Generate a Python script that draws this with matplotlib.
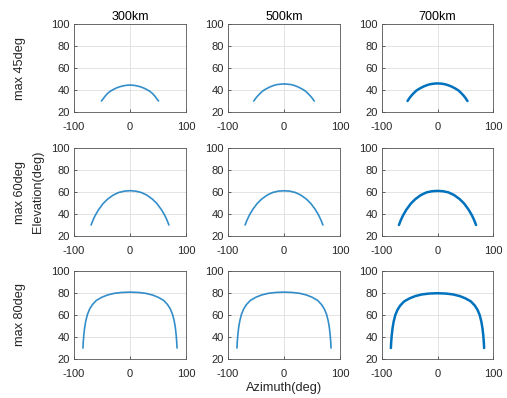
import matplotlib
matplotlib.use("Agg")
import matplotlib.pyplot as plt

# ---------------------------------------------------------------------------
# Data (azimuth / elevation in deg)
# ---------------------------------------------------------------------------

ALTITUDES = ["300km", "500km", "700km"]
MAX_ELEV = ["max 45deg", "max 60deg", "max 80deg"]

# row 1 : max 45deg
AZ_45_300 = [-51, -47, -44.6, -40, -35.7, -30, -24, -18, -12, -6, 0,
             6, 12, 18, 24, 30, 35.7, 40, 44.6, 47, 51]
EL_45_300 = [30, 32.6, 34.3, 36.9, 38.7, 40.4, 41.9, 43, 43.8, 44.3, 44.5,
             44.3, 43.8, 43, 41.9, 40.4, 38.7, 36.9, 34.3, 32.6, 30]
AZ_45_500 = [-54, -50, -47, -42, -38, -32, -25, -19, -13, -6, 0,
             6, 13, 19, 25, 32, 38, 42, 47, 50, 54]
EL_45_500 = [30, 32.8, 34.6, 37.2, 39.1, 41, 42.8, 44, 44.9, 45.3, 45.5,
             45.3, 44.9, 44, 42.8, 41, 39.1, 37.2, 34.6, 32.8, 30]
AZ_45_700 = [-54, -50, -47, -42, -38, -32, -25, -19, -13, -6, 0,
             6, 13, 19, 25, 32, 38, 42, 47, 50, 54]
EL_45_700 = [30, 33, 34.9, 37.6, 39.5, 41.4, 43.2, 44.4, 45.3, 45.8, 46,
             45.8, 45.3, 44.4, 43.2, 41.4, 39.5, 37.6, 34.9, 33, 30]

# row 2 : max 60deg
AZ_60 = [-69.5, -66, -62, -56, -48, -40, -30, -20, -10, 0,
         10, 20, 30, 40, 48, 56, 62, 66, 69.5]
EL_60_300 = [30, 34.5, 38.8, 44, 49.5, 53.5, 57.2, 59.6, 60.8, 61.2,
             60.8, 59.6, 57.2, 53.5, 49.5, 44, 38.8, 34.5, 30]
EL_60_500 = [30, 34.5, 38.8, 44, 49.5, 53.5, 57.2, 59.6, 60.8, 61.1,
             60.8, 59.6, 57.2, 53.5, 49.5, 44, 38.8, 34.5, 30]
EL_60_700 = [30, 34.5, 38.8, 44, 49.5, 53.5, 57.2, 59.6, 60.7, 61,
             60.7, 59.6, 57.2, 53.5, 49.5, 44, 38.8, 34.5, 30]

# row 3 : max 80deg
AZ_80 = [-84, -83.5, -82.5, -81, -79, -76, -72, -67, -60, -50, -40, -28, -15, 0,
         15, 28, 40, 50, 60, 67, 72, 76, 79, 81, 82.5, 83.5, 84]
EL_80_300 = [30, 35, 41.5, 48.5, 54.5, 60.5, 65.5, 69.5, 73.3, 76.2, 78.2, 79.7, 80.5, 80.8,
             80.5, 79.7, 78.2, 76.2, 73.3, 69.5, 65.5, 60.5, 54.5, 48.5, 41.5, 35, 30]
EL_80_500 = [30, 35, 41.5, 48.5, 54.5, 60.5, 65.5, 69.5, 73.3, 76.2, 78.2, 79.7, 80.5, 80.8,
             80.5, 79.7, 78.2, 76.2, 73.3, 69.5, 65.5, 60.5, 54.5, 48.5, 41.5, 35, 30]
EL_80_700 = [30, 35, 41.5, 48, 54, 60, 64.8, 68.7, 72.4, 75.2, 77.2, 78.7, 79.5, 79.8,
             79.5, 78.7, 77.2, 75.2, 72.4, 68.7, 64.8, 60, 54, 48, 41.5, 35, 30]

PANELS = [
    [(AZ_45_300, EL_45_300), (AZ_45_500, EL_45_500), (AZ_45_700, EL_45_700)],
    [(AZ_60, EL_60_300), (AZ_60, EL_60_500), (AZ_60, EL_60_700)],
    [(AZ_80, EL_80_300), (AZ_80, EL_80_500), (AZ_80, EL_80_700)],
]

# ---------------------------------------------------------------------------
# Layout (pixel based, figure is 507 x 398)
# ---------------------------------------------------------------------------

W, H = 507, 398
COL_X = [(74, 186), (228, 340), (382, 493)]
ROW_Y = [(24, 112), (148, 236), (271, 359)]
BLUE = "#0072BD"
TXT = "#262626"

plt.rcParams["font.family"] = ["Liberation Sans", "DejaVu Sans"]
plt.rcParams["axes.unicode_minus"] = False

fig = plt.figure(figsize=(W / 100, H / 100), dpi=100)

for r, (y0, y1) in enumerate(ROW_Y):
    for c, (x0, x1) in enumerate(COL_X):
        ax = fig.add_axes([x0 / W, 1 - y1 / H, (x1 - x0) / W, (y1 - y0) / H])
        az, el = PANELS[r][c]
        if c == 2:
            ax.plot(az, el, color=BLUE, lw=1.8, solid_joinstyle="round",
                    solid_capstyle="round")
        else:
            ax.plot(az, el, color=BLUE, lw=1.2, alpha=0.8,
                    solid_joinstyle="round", solid_capstyle="round")
        ax.set_xlim(-100, 100)
        ax.set_ylim(20, 100)
        ax.set_xticks([-100, 0, 100])
        ax.set_yticks([20, 40, 60, 80, 100])
        ax.grid(True, color="#dedede", lw=0.6)
        ax.set_axisbelow(True)
        ax.tick_params(direction="in", length=2, width=0.5, labelsize=8,
                       colors=TXT)
        ax.tick_params(axis="x", pad=7)
        ax.tick_params(axis="y", pad=3)
        for s in ax.spines.values():
            s.set_color("#555555")
            s.set_linewidth(0.6)
        if r == 0:
            ax.set_title(ALTITUDES[c], fontsize=9, color="black", pad=3)

for r, (y0, y1) in enumerate(ROW_Y):
    fig.text(20 / W, 1 - (y0 + y1) / 2 / H, MAX_ELEV[r], rotation=90,
             ha="center", va="center", fontsize=9.2, color=TXT)

fig.text(38 / W, 1 - 192 / H, "Elevation(deg)", rotation=90,
         ha="center", va="center", fontsize=9.2, color=TXT)
fig.text(284 / W, 1 - 388 / H, "Azimuth(deg)",
         ha="center", va="center", fontsize=9.2, color=TXT)

fig.savefig("out.png", dpi=100)
